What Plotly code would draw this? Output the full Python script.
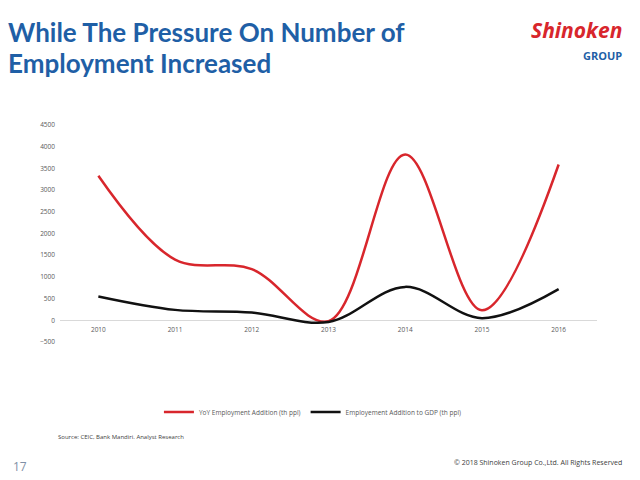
import plotly.graph_objects as go

years = ["2010", "2011", "2012", "2013", "2014", "2015", "2016"]
yoy_employment = [3330, 1400, 1180, -20, 3820, 230, 3590]
employment_gdp = [550, 240, 180, -40, 770, 50, 720]
y_ticks = [-500, 0, 500, 1000, 1500, 2000, 2500, 3000, 3500, 4000, 4500]

fig = go.Figure()
fig.add_trace(go.Scatter(
    x=years, y=yoy_employment, mode="lines",
    name="YoY Employment Addition (th ppl)",
    line=dict(color="#D8262C", width=2.5, shape="spline", smoothing=1.0),
))
fig.add_trace(go.Scatter(
    x=years, y=employment_gdp, mode="lines",
    name="Employement Addition to GDP (th ppl)",
    line=dict(color="#111111", width=2.5, shape="spline", smoothing=1.0),
))

fig.update_layout(
    width=640, height=480,
    margin=dict(l=60, r=43, t=125, b=138, autoexpand=False),
    paper_bgcolor="white", plot_bgcolor="white",
    showlegend=True,
    legend=dict(orientation="h", x=0.471, xanchor="center", y=-0.323, yanchor="middle",
                font=dict(family="Open Sans", size=6.5, color="#595959"),
                itemwidth=30, tracegroupgap=0),
    xaxis=dict(type="category", range=[-0.5, 6.5], anchor="free", position=0.1,
               showgrid=False, showline=False, ticks="", ticklabelstandoff=4,
               tickfont=dict(family="Open Sans", size=6.5, color="#595959")),
    yaxis=dict(range=[-500, 4500], tickvals=y_ticks, showgrid=False,
               zeroline=True, zerolinecolor="#D9D9D9", zerolinewidth=1,
               showline=False, ticks="", ticklabelstandoff=4,
               tickfont=dict(family="Open Sans", size=6.5, color="#595959")),
)

title_lines = ["While The Pressure On Number of", "Employment Increased"]
for line_text, ypos in zip(title_lines, [1.428, 1.285]):
    fig.add_annotation(text="<b>" + line_text + "</b>",
                       xref="paper", yref="paper", x=-0.1, y=ypos, xanchor="left", yanchor="middle",
                       showarrow=False, align="left",
                       font=dict(family="Lato", size=26, color="#1F5FA6"))
fig.add_annotation(text="<b><i>Shinoken</i></b>", xref="paper", yref="paper",
                   x=1.05, y=1.44, xanchor="right", yanchor="middle", showarrow=False,
                   font=dict(family="Open Sans", size=21, color="#D8262C"))
fig.add_annotation(text="<b>GROUP</b>", xref="paper", yref="paper",
                   x=1.05, y=1.318, xanchor="right", yanchor="middle", showarrow=False,
                   font=dict(family="Open Sans", size=11, color="#1F5FA6"))
fig.add_annotation(text="Source: CEIC, Bank Mandiri. Analyst Research", xref="paper", yref="paper",
                   x=-0.008, y=-0.438, xanchor="left", yanchor="middle", showarrow=False,
                   font=dict(family="Open Sans", size=6, color="#404040"))
fig.add_annotation(text="© 2018 Shinoken Group Co.,Ltd. All Rights Reserved", xref="paper", yref="paper",
                   x=1.05, y=-0.553, xanchor="right", yanchor="middle", showarrow=False,
                   font=dict(family="Open Sans", size=7, color="#404040"))
fig.add_annotation(text="17", xref="paper", yref="paper",
                   x=-0.092, y=-0.576, xanchor="left", yanchor="middle", showarrow=False,
                   font=dict(family="Open Sans", size=12, color="#7F8FA6"))

fig.write_html("out.html", config={"displayModeBar": False},
               post_script="document.body.style.margin='0';")
